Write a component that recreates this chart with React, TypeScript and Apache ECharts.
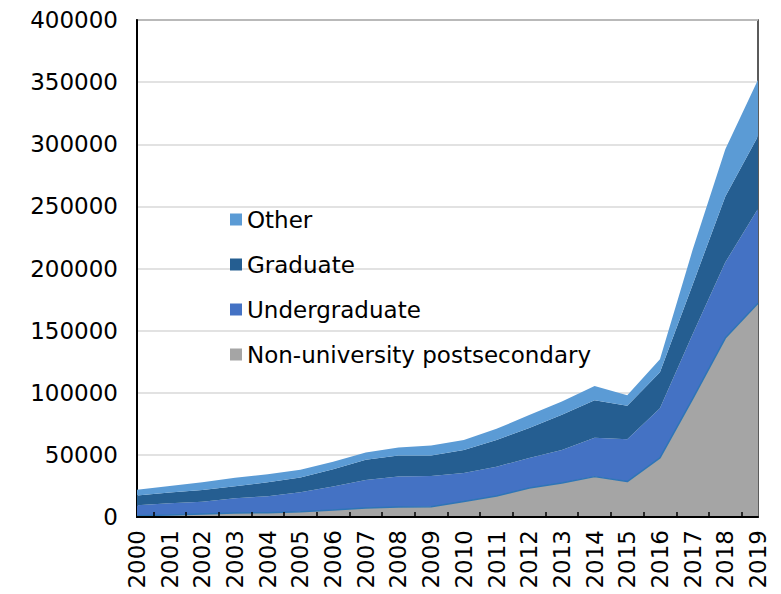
import React, { useEffect, useRef } from "react";
import * as echarts from "echarts";

const years = ["2000","2001","2002","2003","2004","2005","2006","2007","2008","2009","2010","2011","2012","2013","2014","2015","2016","2017","2018","2019"];
const nonUniversity = [1000,1600,2400,3200,3500,4300,5600,7200,8000,8300,12500,16900,23400,27400,32500,28500,47500,95000,144000,172000];
const undergraduate = [8500,9400,9900,11800,13300,15700,18900,22600,24500,24700,23000,23600,24100,26600,31200,34000,40000,52000,61000,76000];
const graduate = [7800,8800,9500,9800,11200,11800,14000,16200,17000,16500,18500,21500,24200,28200,30300,27000,29000,40000,53000,58500];
const other = [4700,5200,6200,6700,6500,6200,6000,6000,6500,8000,8000,9000,10300,10800,11500,8500,10500,28000,38000,45500];
const legendOrder = ["Other", "Graduate", "Undergraduate", "Non-university postsecondary"];

const FONT = "DejaVu Sans";

export default function App() {
  const ref = useRef<HTMLDivElement>(null);
  useEffect(() => {
    if (!ref.current) return;
    const chart = echarts.init(ref.current, null, { renderer: "svg" });
    const mk = (name: string, data: number[], color: string, line: string, lw: number) => ({
      name,
      type: "line",
      stack: "total",
      data,
      showSymbol: false,
      symbol: "none",
      lineStyle: { color: line, width: lw },
      itemStyle: { color },
      areaStyle: { color, opacity: 1 },
      emphasis: { disabled: true },
    });
    chart.setOption({
      animation: false,
      textStyle: { fontFamily: FONT },
      grid: {
        left: 137, right: 23, top: 20, bottom: 77,
        show: true, borderColor: "#262626", borderWidth: 1.5, backgroundColor: "transparent",
      },
      legend: {
        data: legendOrder.map((n) => ({ name: n })),
        orient: "vertical",
        left: 225,
        top: 203,
        itemWidth: 12,
        itemHeight: 12,
        itemGap: 22,
        icon: "rect",
        textStyle: { fontFamily: FONT, fontSize: 23, color: "#000" },
      },
      xAxis: [
        {
          type: "category",
          data: years,
          boundaryGap: false,
          axisLine: { show: true, lineStyle: { color: "#000", width: 2 } },
          axisTick: { show: false },
          axisLabel: { rotate: 90, margin: 13, fontFamily: FONT, fontSize: 23, color: "#000" },
          splitLine: { show: false },
          z: 5,
        },
        {
          type: "value",
          min: 0,
          max: 19,
          interval: 1,
          position: "bottom",
          axisLine: { show: false },
          axisLabel: { show: false },
          axisTick: { show: false, inside: true },
          minorTick: { show: true, splitNumber: 2, length: 5, lineStyle: { color: "#000", width: 1.5 } },
          splitLine: { show: false },
          minorSplitLine: { show: false },
          z: 6,
        },
      ],
      yAxis: {
        type: "value",
        min: 0,
        max: 400000,
        interval: 50000,
        axisLine: { show: true, lineStyle: { color: "#000", width: 2 } },
        axisTick: { show: false },
        axisLabel: { margin: 19, fontFamily: FONT, fontSize: 23, color: "#000", formatter: (v: number) => String(v) },
        splitLine: { show: true, lineStyle: { color: "#d9d9d9", width: 1.5 } },
      },
      series: [
        mk("Non-university postsecondary", nonUniversity, "#a5a5a5", "#2e75b6", 1.5),
        mk("Undergraduate", undergraduate, "#4472c4", "#4472c4", 0),
        mk("Graduate", graduate, "#255e91", "#255e91", 0),
        mk("Other", other, "#5b9bd5", "#5b9bd5", 0),
      ],
    });
    return () => chart.dispose();
  }, []);
  return (
    <div
      ref={ref}
      style={{ position: "fixed", left: 0, top: 0, width: 781, height: 594, background: "#fff" }}
    />
  );
}
